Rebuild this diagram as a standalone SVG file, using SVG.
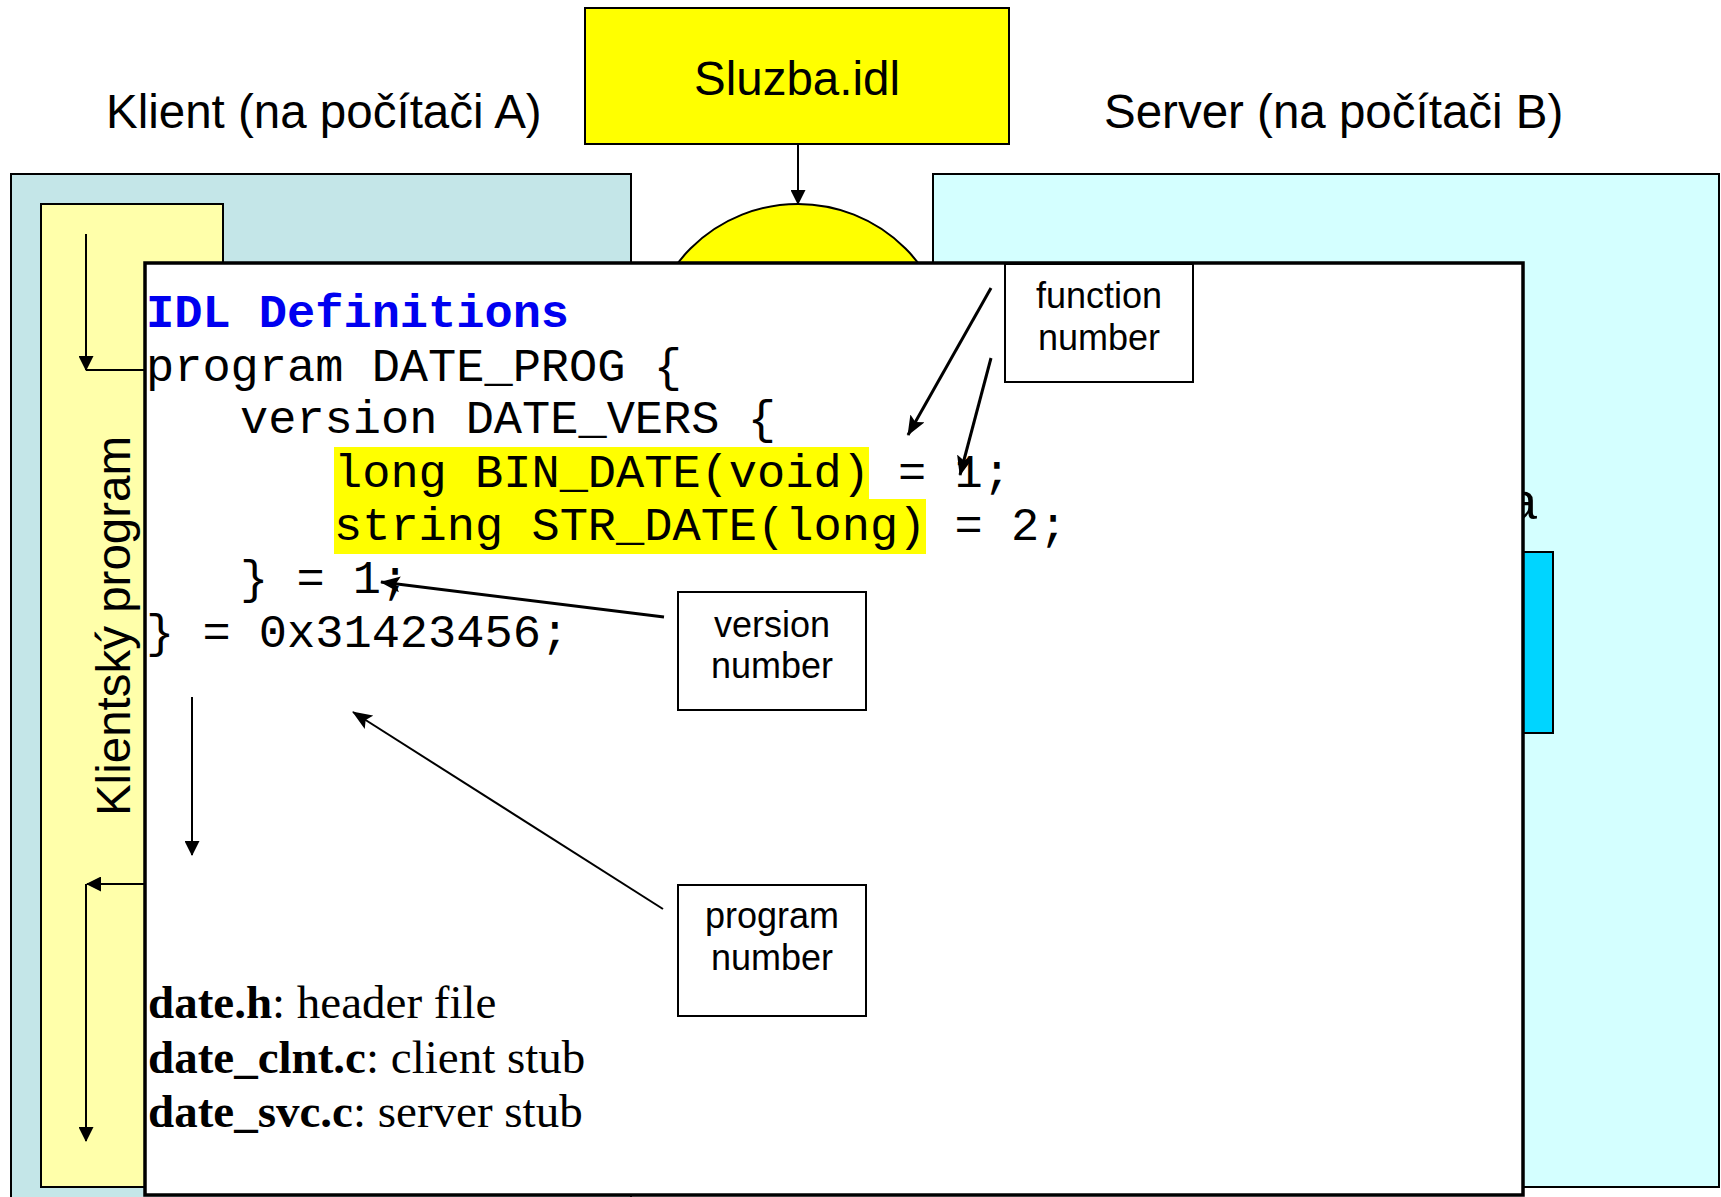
<svg xmlns="http://www.w3.org/2000/svg" width="1721" height="1197" viewBox="0 0 1721 1197">
<defs>
<style>
.lbl{font-family:"Liberation Sans",Arial,sans-serif;font-size:47.5px;fill:#000}
.call{font-family:"Liberation Sans",Arial,sans-serif;font-size:36px;fill:#000;text-anchor:middle}
.code{font-family:"Liberation Mono","Courier New",monospace;font-size:47px;fill:#000;white-space:pre}
.tm{font-family:"Liberation Serif","Times New Roman",serif;font-size:47px;fill:#000}
.box{stroke:#000;stroke-width:2}
.ln{stroke:#000;stroke-width:2;fill:none}
.cl{stroke:#000;stroke-width:3;fill:none}
</style>
<marker id="ah" markerUnits="userSpaceOnUse" markerWidth="15" markerHeight="15" refX="14" refY="7.5" orient="auto" viewBox="0 0 15 15">
<path d="M0,0 L15,7.5 L0,15 z" fill="#000"/>
</marker>
<marker id="ahb" markerUnits="userSpaceOnUse" markerWidth="20" markerHeight="16" refX="19" refY="8" orient="auto" viewBox="0 0 20 16">
<path d="M0,0 L20,8 L0,16 L4,8 z" fill="#000"/>
</marker>
</defs>

<g id="client">
<rect x="11" y="174" width="620" height="1040" fill="#C4E6E8" class="box"/>
</g>
<g id="client-program">
<rect x="41" y="204" width="182" height="983" fill="#FFFFAA" class="box"/>
<text class="lbl" text-anchor="middle" transform="translate(130,626) rotate(-90)">Klientský program</text>
</g>
<g id="server">
<rect x="933" y="174" width="786" height="1013" fill="#D4FFFF" class="box"/>
<rect x="1440" y="552" width="113" height="181" fill="#00D5FF" class="box"/>
<text x="1537" y="519" class="lbl" text-anchor="end" style="font-size:52px">a</text>
</g>
<g id="sluzba">
<rect x="585" y="8" width="424" height="136" fill="#FFFF00" class="box"/>
<text x="797" y="95" class="lbl" text-anchor="middle">Sluzba.idl</text>
</g>
<g id="compiler">
<circle cx="798" cy="356" r="152" fill="#FFFF00" class="box"/>
</g>

<text x="106" y="128" class="lbl">Klient (na počítači A)</text>
<text x="1104" y="128" class="lbl">Server (na počítači B)</text>

<g id="idl-box">
<rect x="145" y="263" width="1378" height="932" fill="#FFFFFF" stroke="#000" stroke-width="3.5"/>
<rect x="334" y="447" width="535" height="52" fill="#FFFF00"/>
<rect x="334" y="499" width="592" height="55" fill="#FFFF00"/>
<text x="146" y="327" class="code" style="font-weight:bold;fill:#0000F0">IDL Definitions</text>
<text x="146" y="381" class="code">program DATE_PROG {</text>
<text x="240" y="433" class="code">version DATE_VERS {</text>
<text x="334" y="487" class="code">long BIN_DATE(void) = 1;</text>
<text x="334" y="540" class="code">string STR_DATE(long) = 2;</text>
<text x="240" y="593" class="code">} = 1;</text>
<text x="146" y="647" class="code">} = 0x31423456;</text>
<text x="148" y="1018" class="tm"><tspan font-weight="bold">date.h</tspan>: header file</text>
<text x="148" y="1073" class="tm"><tspan font-weight="bold">date_clnt.c</tspan>: client stub</text>
<text x="148" y="1127" class="tm"><tspan font-weight="bold">date_svc.c</tspan>: server stub</text>
</g>

<g id="function-number">
<rect x="1005" y="264" width="188" height="118" fill="#FFFFFF" class="box"/>
<text x="1099" y="308" class="call">function</text>
<text x="1099" y="350" class="call">number</text>
</g>
<g id="version-number">
<rect x="678" y="592" width="188" height="118" fill="#FFFFFF" class="box"/>
<text x="772" y="637" class="call">version</text>
<text x="772" y="678" class="call">number</text>
</g>
<g id="program-number">
<rect x="678" y="885" width="188" height="131" fill="#FFFFFF" class="box"/>
<text x="772" y="928" class="call">program</text>
<text x="772" y="970" class="call">number</text>
</g>

<g id="connectors">
<line x1="798" y1="144" x2="798" y2="204" class="ln" marker-end="url(#ah)"/>
<line x1="86" y1="234" x2="86" y2="370" class="ln" marker-end="url(#ah)"/>
<line x1="86" y1="370" x2="145" y2="370" class="ln"/>
<line x1="145" y1="884" x2="87" y2="884" class="ln" marker-end="url(#ah)"/>
<line x1="86" y1="884" x2="86" y2="1141" class="ln" marker-end="url(#ah)"/>
<line x1="192" y1="697" x2="192" y2="855" class="ln" marker-end="url(#ah)"/>
<line x1="991" y1="288" x2="908" y2="435" class="cl" marker-end="url(#ahb)"/>
<line x1="991" y1="358" x2="960" y2="475" class="cl" marker-end="url(#ahb)"/>
<line x1="664" y1="617" x2="381" y2="582" class="cl" marker-end="url(#ahb)"/>
<line x1="663" y1="909" x2="353" y2="712" class="ln" marker-end="url(#ahb)"/>
</g>
</svg>
